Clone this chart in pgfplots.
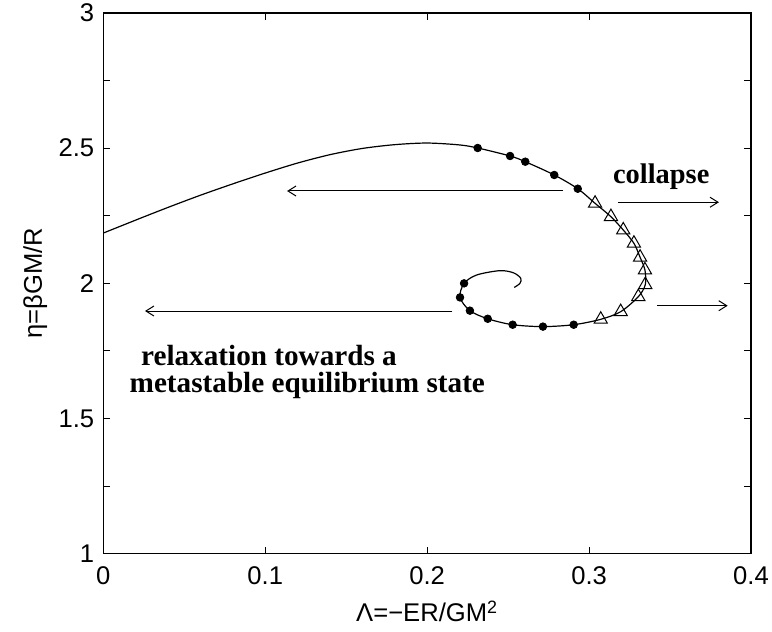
\documentclass[border=0pt]{standalone}
\usepackage{fontspec}
\setmainfont{Liberation Sans}
\newfontfamily\tms{Liberation Serif}
\usepackage{pgfplots}
\pgfplotsset{compat=1.18}
\usetikzlibrary{arrows.meta}

\pgfplotstableread{
x y
0 2.186
0.02 2.234
0.04 2.281
0.06 2.326
0.08 2.368
0.10 2.408
0.12 2.445
0.14 2.476
0.16 2.499
0.18 2.513
0.20 2.519
0.22 2.512
0.2312 2.5007
0.2512 2.4711
0.2606 2.450
0.2785 2.4008
0.2930 2.350
0.3037 2.296
0.3135 2.2465
0.3211 2.1973
0.3277 2.1481
0.3315 2.0964
0.3345 2.0494
0.3347 1.995
0.3304 1.9506
0.3195 1.8951
0.3072 1.8670
0.2905 1.847
0.2715 1.840
0.2528 1.847
0.2374 1.869
0.2264 1.899
0.2203 1.948
0.2228 2.000
0.2306 2.031
0.2450 2.047
0.2533 2.039
0.2578 2.019
0.2573 2.000
0.2538 1.985
}\curve

\pgfplotstableread{
x y
0.2312 2.5007
0.2512 2.4711
0.2606 2.450
0.2785 2.4008
0.2930 2.350
0.2905 1.847
0.2715 1.840
0.2528 1.847
0.2374 1.869
0.2264 1.899
0.2203 1.948
0.2228 2.000
}\dots

\pgfplotstableread{
x y
0.3037 2.296
0.3135 2.2465
0.3211 2.1973
0.3277 2.1481
0.3315 2.0964
0.3345 2.0494
0.3347 1.995
0.3304 1.9506
0.3195 1.8951
0.3072 1.8670
}\tris

\begin{document}
\begin{tikzpicture}
\begin{axis}[
  name=ax,
  scale only axis,
  width=323.85pt, height=270.35pt,
  xmin=0, xmax=0.4, ymin=1, ymax=3,
  xtick={0,0.1,0.2,0.3,0.4},
  xticklabels={0,0.1,0.2,0.3,0.4},
  ytick={1,1.5,2,2.5,3},
  yticklabels={1,1.5,2,2.5,3},
  minor ytick={1.25,1.75,2.25,2.75},
  tick align=inside,
  major tick length=3.5pt, minor tick length=3.5pt,
  every tick/.style={black, line width=0.5pt},
  axis line style={line width=0.6pt},
  tick label style={font=\fontsize{12.8}{14}\selectfont},
  /pgf/number format/assume math mode=true,
  xticklabel style={yshift=-3pt},
  yticklabel style={xshift=-1pt},
  xlabel={Λ=−ER/GM\textsuperscript{2}},
  ylabel={η=βGM/R},
  label style={font=\fontsize{12.8}{14}\selectfont},
  x label style={at={(axis description cs:0.5,-0.1258)}, anchor=base},
  y label style={at={(axis description cs:-0.105,0.5)}, anchor=center},
  clip=false,
]
\addplot[black, line width=0.6pt, smooth, no marks] table {\curve};
\addplot[only marks, mark=*, mark size=1.9pt, black] table {\dots};
\addplot[only marks, mark=triangle, mark size=3.8pt, black, line width=0.5pt, mark options={fill=white}] table {\tris};

\draw[line width=0.5pt, -{Straight Barb[length=4pt,width=5pt]}] (axis cs:0.2839,2.3416) -- (axis cs:0.1135,2.3416);
\draw[line width=0.5pt, -{Straight Barb[length=4pt,width=5pt]}] (axis cs:0.3179,2.300) -- (axis cs:0.3802,2.300);
\draw[line width=0.5pt, -{Straight Barb[length=4pt,width=5pt]}] (axis cs:0.3420,1.9173) -- (axis cs:0.3856,1.9173);
\draw[line width=0.5pt, -{Straight Barb[length=4pt,width=5pt]}] (axis cs:0.2155,1.8977) -- (axis cs:0.02575,1.8977);

\node[font=\tms\bfseries\fontsize{14.2}{16}\selectfont, anchor=base west, inner sep=0] at (axis cs:0.3146,2.370) {collapse};
\node[font=\tms\bfseries\fontsize{14.6}{13.5}\selectfont, anchor=base west, inner sep=0, align=left] at (axis cs:0.01606,1.597) {\hspace*{5.7pt}relaxation towards a\\metastable equilibrium state};
\end{axis}
\pgfresetboundingbox
\path[use as bounding box] ([xshift=-51.65pt,yshift=-38.65pt]ax.south west) rectangle ([xshift=10.5pt,yshift=6.5pt]ax.north east);
\end{tikzpicture}
\end{document}
